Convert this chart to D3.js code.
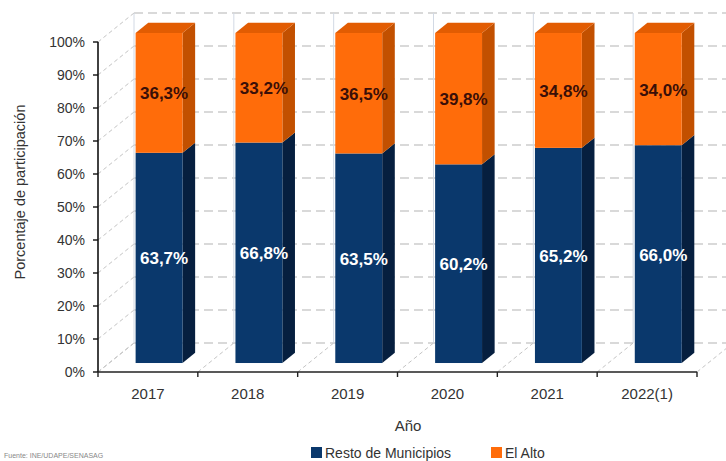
<!DOCTYPE html>
<html>
<head>
<meta charset="utf-8">
<script src="https://cdn.jsdelivr.net/npm/d3@7/dist/d3.min.js"></script>
<style>
  html, body { margin: 0; padding: 0; background: #fff; }
  svg { display: block; font-family: "Liberation Sans", Arial, sans-serif; }
</style>
</head>
<body>
<svg id="chart" width="726" height="461"></svg>
<script>
// ---- data ----
const years = ["2017", "2018", "2019", "2020", "2021", "2022(1)"];
const resto = [63.7, 66.8, 63.5, 60.2, 65.2, 66.0];
const elAlto = [36.3, 33.2, 36.5, 39.8, 34.8, 34.0];
const yTicks = [0, 10, 20, 30, 40, 50, 60, 70, 80, 90, 100];
const seriesNames = ["Resto de Municipios", "El Alto"];
const fmt = v => v.toFixed(1).replace(".", ",") + "%";

// ---- layout ----
const svg = d3.select("#chart");
const W = 726;
const x = d3.scaleBand().domain(years).range([98, 697]).padding(0);
const y = d3.scaleLinear().domain([0, 100]).range([372, 42]);
const DX = 36, DY = -29;          // full wall depth
const fF = 0.31, fB = 0.66;       // bar front/back depth fraction
const barFrac = 0.47;

const colors = {
  resto: { front: "#0a386c", side: "#061f3f", top: "#0a3262" },
  alto:  { front: "#ff6c0a", side: "#c25000", top: "#e25c02" }
};

const gGrid = svg.append("g");
// back wall horizontal dashed gridlines
gGrid.selectAll("line.h").data(yTicks).join("line")
  .attr("x1", 98 + DX).attr("x2", W)
  .attr("y1", d => y(d) + DY).attr("y2", d => y(d) + DY)
  .attr("stroke", "#b4b4b4").attr("stroke-width", 1.2)
  .attr("stroke-dasharray", "9,5");
// back wall vertical lines at band boundaries
const bounds = years.map(d => x(d)).concat([x.range()[1]]);
gGrid.selectAll("line.v").data(bounds).join("line")
  .attr("x1", d => d + DX).attr("x2", d => d + DX)
  .attr("y1", y(100) + DY).attr("y2", y(0) + DY)
  .attr("stroke", "#d2d9e4").attr("stroke-width", 1);
// left wall diagonals
gGrid.selectAll("line.ld").data(yTicks).join("line")
  .attr("x1", 98).attr("x2", 98 + DX)
  .attr("y1", d => y(d)).attr("y2", d => y(d) + DY)
  .attr("stroke", "#c4c4c4").attr("stroke-width", 1)
  .attr("stroke-dasharray", "4,3");
// floor diagonals
gGrid.selectAll("line.fd").data(bounds).join("line")
  .attr("x1", d => d).attr("x2", d => d + DX)
  .attr("y1", y(0)).attr("y2", y(0) + DY)
  .attr("stroke", "#c4c4c4").attr("stroke-width", 1)
  .attr("stroke-dasharray", "4,3");

// ---- bars ----
const gBars = svg.append("g");
const bw = x.bandwidth() * barFrac;
const fdx = DX * fF, fdy = DY * fF, bdx = DX * fB, bdy = DY * fB;

years.forEach((yr, i) => {
  const bx = x(yr) + x.bandwidth() / 2 - bw / 2;
  const segs = [
    { v0: 0, v1: resto[i], c: colors.resto, val: resto[i], lc: "#ffffff" },
    { v0: resto[i], v1: resto[i] + elAlto[i], c: colors.alto, val: elAlto[i], lc: "#3a0f08" }
  ];
  segs.forEach((s, k) => {
    const yt = y(s.v1), yb = y(s.v0);
    gBars.append("polygon")
      .attr("points", [
        [bx + bw + fdx, yt + fdy], [bx + bw + bdx, yt + bdy],
        [bx + bw + bdx, yb + bdy], [bx + bw + fdx, yb + fdy]
      ].map(p => p.join(",")).join(" "))
      .attr("fill", s.c.side);
    gBars.append("rect")
      .attr("x", bx + fdx).attr("y", yt + fdy)
      .attr("width", bw).attr("height", yb - yt)
      .attr("fill", s.c.front);
    if (k === segs.length - 1) {
      gBars.append("polygon")
        .attr("points", [
          [bx + fdx, yt + fdy], [bx + bw + fdx, yt + fdy],
          [bx + bw + bdx, yt + bdy], [bx + bdx, yt + bdy]
        ].map(p => p.join(",")).join(" "))
        .attr("fill", s.c.top);
    }
  });
  segs.forEach(s => {
    const cy = (y(s.v0) + y(s.v1)) / 2 + fdy + 1;
    gBars.append("text")
      .attr("x", bx + fdx + bw / 2 + 5).attr("y", cy)
      .attr("text-anchor", "middle").attr("dominant-baseline", "central")
      .attr("font-size", 17).attr("font-weight", "bold")
      .attr("fill", s.lc)
      .text(fmt(s.val));
  });
});

// ---- axes ----
const gAxis = svg.append("g");
gAxis.append("line").attr("x1", 98).attr("x2", 98).attr("y1", y(100)).attr("y2", y(0))
  .attr("stroke", "#111").attr("stroke-width", 1.6);
gAxis.append("line").attr("x1", 98).attr("x2", x.range()[1]).attr("y1", y(0)).attr("y2", y(0))
  .attr("stroke", "#222").attr("stroke-width", 1.6);
gAxis.selectAll("line.yt").data(yTicks).join("line")
  .attr("x1", 93).attr("x2", 98).attr("y1", d => y(d)).attr("y2", d => y(d))
  .attr("stroke", "#111").attr("stroke-width", 1.4);
gAxis.selectAll("text.yl").data(yTicks).join("text")
  .attr("x", 85).attr("y", d => y(d))
  .attr("text-anchor", "end").attr("dominant-baseline", "central")
  .attr("font-size", 14).attr("fill", "#333")
  .text(d => d + "%");
gAxis.selectAll("line.xt").data(bounds).join("line")
  .attr("x1", d => d).attr("x2", d => d).attr("y1", y(0)).attr("y2", y(0) + 5)
  .attr("stroke", "#222").attr("stroke-width", 1.4);
gAxis.selectAll("text.xl").data(years).join("text")
  .attr("x", d => x(d) + x.bandwidth() / 2).attr("y", 399)
  .attr("text-anchor", "middle")
  .attr("font-size", 15).attr("fill", "#333")
  .text(d => d);

// titles
svg.append("text")
  .attr("transform", "translate(25,192) rotate(-90)")
  .attr("text-anchor", "middle")
  .attr("font-size", 14.5).attr("fill", "#333")
  .text("Porcentaje de participación");
svg.append("text")
  .attr("x", 408).attr("y", 431)
  .attr("text-anchor", "middle")
  .attr("font-size", 15).attr("fill", "#333")
  .text("Año");

// legend
const legend = [
  { name: seriesNames[0], color: colors.resto.front, x: 311, tx: 325 },
  { name: seriesNames[1], color: colors.alto.front, x: 491, tx: 505 }
];
legend.forEach(l => {
  svg.append("rect").attr("x", l.x).attr("y", 447).attr("width", 11).attr("height", 11).attr("fill", l.color);
  svg.append("text").attr("x", l.tx).attr("y", 457.5)
    .attr("font-size", 14).attr("fill", "#333").text(l.name);
});

// source
svg.append("text").attr("x", 4).attr("y", 458)
  .attr("font-size", 7).attr("fill", "#888")
  .text("Fuente: INE/UDAPE/SENASAG");
</script>
</body>
</html>
